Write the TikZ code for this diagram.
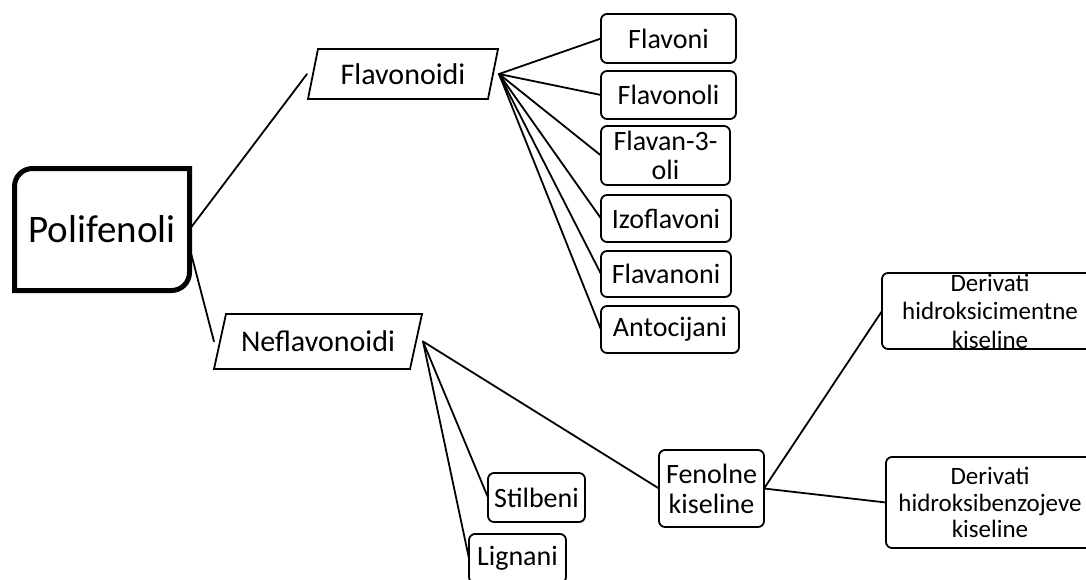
\documentclass[tikz,border=0pt]{standalone}
\usepackage{fontspec}
\setmainfont{Carlito}
\begin{document}
\begin{tikzpicture}[x=1pt,y=-1pt,
  conn/.style={line width=1.8pt, line cap=round},
  box/.style={draw, line width=1.8pt, rounded corners=6pt, inner sep=0pt, outer sep=0pt,
              font=\fontsize{28}{29}\selectfont, align=center},
  para/.style={inner sep=0pt, outer sep=0pt, font=\fontsize{30}{36}\selectfont},
  pline/.style={line width=1.8pt, line join=miter},
  dtext/.style={inner sep=0pt, outer sep=0pt, align=center},
  polibox/.style={line width=5pt}]
\useasboundingbox (0,0) rectangle (1086,579);
\clip (0,0) rectangle (1086,579);
\fill[white] (0,0) rectangle (1086,579);

% root
\node[inner sep=0pt, outer sep=0pt, minimum width=175, minimum height=122,
      font=\fontsize{39}{44}\selectfont] (poli) at (102,229.5) {Polifenoli};
\draw[polibox] (poli.south west) -- ([yshift=-18pt]poli.north west)
  arc[start angle=180, end angle=90, radius=18pt] -- (poli.north east)
  -- ([yshift=18pt]poli.south east)
  arc[start angle=0, end angle=-90, radius=18pt] -- cycle;

% parallelograms
\node[para, minimum width=180, minimum height=50] (flav) at (403,74) {Flavonoidi};
\draw[pline] ([xshift=5pt]flav.north west) -- ([xshift=5pt]flav.north east)
  -- ([xshift=-5pt]flav.south east) -- ([xshift=-5pt]flav.south west) -- cycle;
\node[para, minimum width=196, minimum height=55] (nef) at (318,341.5) {Neflavonoidi};
\draw[pline] ([xshift=6pt]nef.north west) -- ([xshift=6pt]nef.north east)
  -- ([xshift=-6pt]nef.south east) -- ([xshift=-6pt]nef.south west) -- cycle;

% flavonoid classes
\node[box, minimum width=135, minimum height=49] (flavoni) at (668.5,38.5) {Flavoni};
\node[box, minimum width=135, minimum height=48] (flavonoli) at (668.5,95) {Flavonoli};
\node[box, minimum width=129, minimum height=59] (flavan) at (665.5,155.5) {Flavan-3-\\oli};
\node[box, minimum width=130, minimum height=47] (izo) at (666,218.5) {Izoflavoni};
\node[box, minimum width=130, minimum height=46] (flavanoni) at (666,274) {Flavanoni};
\node[box, minimum width=138, minimum height=47] (anto) at (670,329.5) {Antocijani};

% non-flavonoid classes
\node[box, minimum width=97, minimum height=49] (stil) at (536.5,497.5) {Stilbeni};
\node[box, minimum width=97, minimum height=49] (lig) at (517.5,558.5) {Lignani};
\node[box, minimum width=105, minimum height=77, font=\fontsize{28}{30}\selectfont] (fen) at (711.5,488.5) {Fenolne\\kiseline};

% derivative boxes
\node[box, minimum width=216, minimum height=76] (dhc) at (990,311) {};
\node[dtext, font=\fontsize{25}{28.5}\selectfont] (dhct) at (dhc.center) {Derivati\\hidroksicimentne\\kiseline};
\node[box, minimum width=208, minimum height=91] (dhb) at (990,502.5) {};
\node[dtext, font=\fontsize{25}{26.5}\selectfont] (dhbt) at (dhb.center) {Derivati\\hidroksibenzojeve\\kiseline};

% connectors
\draw[conn] (poli.east) -- ([xshift=-6pt]flav.west);
\draw[conn] ([yshift=-18pt]poli.east) -- ([xshift=-6pt]nef.west);
\foreach \t in {flavoni,flavonoli,flavan,izo,flavanoni,anto}
  \draw[conn] ([xshift=6pt]flav.east) -- (\t.west);
\foreach \t in {fen,stil,lig}
  \draw[conn] ([xshift=7pt]nef.east) -- (\t.west);
\draw[conn] (fen.east) -- (dhc.west);
\draw[conn] (fen.east) -- (dhb.west);
\end{tikzpicture}
\end{document}
